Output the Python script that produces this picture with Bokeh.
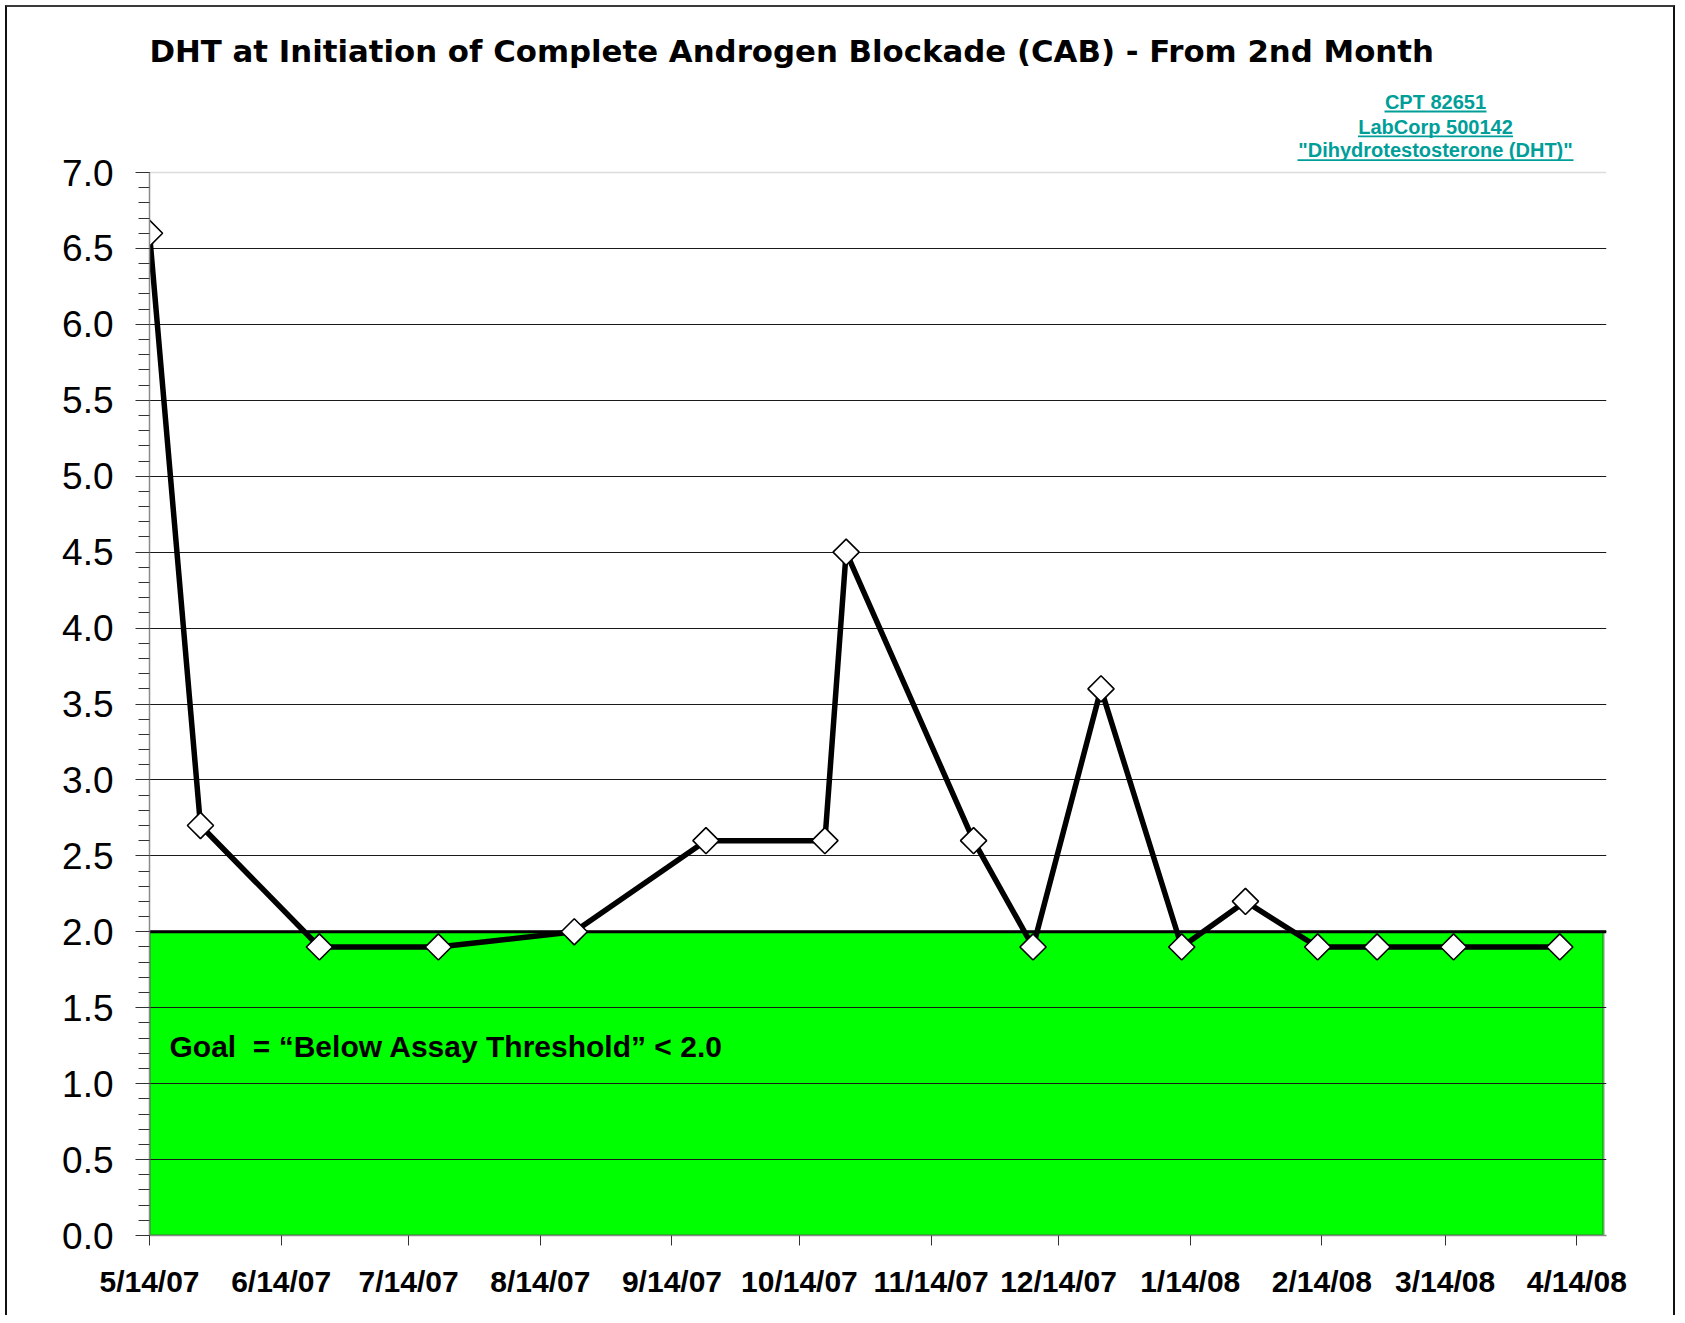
import numpy as np
import pandas as pd
from bokeh.plotting import figure
from bokeh.models import (Range1d, FixedTicker, NumeralTickFormatter,
                          BoxAnnotation, Label, Span, ColumnDataSource)
from bokeh.embed import file_html
from bokeh.resources import INLINE

# ---------------- data ----------------
title_text = "DHT at Initiation of Complete Androgen Blockade (CAB) - From 2nd Month"
link_lines = ["CPT 82651", "LabCorp 500142", "\"Dihydrotestosterone (DHT)\""]
goal_text = "Goal\u00a0 = \u201cBelow Assay Threshold\u201d < 2.0"
goal_threshold = 2.0

dates = ["2007-05-14", "2007-05-26", "2007-06-23", "2007-07-21", "2007-08-22",
         "2007-09-22", "2007-10-20", "2007-10-25", "2007-11-24", "2007-12-08",
         "2007-12-24", "2008-01-12", "2008-01-27", "2008-02-13", "2008-02-27",
         "2008-03-16", "2008-04-10"]
dht = [6.6, 2.7, 1.9, 1.9, 2.0, 2.6, 2.6, 4.5, 2.6, 1.9, 3.6, 1.9, 2.2, 1.9, 1.9, 1.9, 1.9]

tick_dates = ["2007-05-14", "2007-06-14", "2007-07-14", "2007-08-14", "2007-09-14",
              "2007-10-14", "2007-11-14", "2007-12-14", "2008-01-14", "2008-02-14",
              "2008-03-14", "2008-04-14"]
tick_labels = ["5/14/07", "6/14/07", "7/14/07", "8/14/07", "9/14/07", "10/14/07",
               "11/14/07", "12/14/07", "1/14/08", "2/14/08", "3/14/08", "4/14/08"]

y_ticks = [0.0, 0.5, 1.0, 1.5, 2.0, 2.5, 3.0, 3.5, 4.0, 4.5, 5.0, 5.5, 6.0, 6.5, 7.0]

x_start = "2007-05-14"
x_end = "2008-04-21"
y_min, y_max = 0.0, 7.0


def ms(d):
    return float(pd.Timestamp(d).value // 10**6)


# ---------------- geometry (pixels) ----------------
FONT = "Liberation Sans"
W, H = 1670, 1310
BL, BR, BB = 142, 71, 82
frame_w = W - BL - BR            # 1457
frame_h = H - BB                 # frame reaches the canvas top
px_per_unit = 1063 / (y_max - y_min)
y_top = y_min + frame_h / px_per_unit
ms_per_px = (ms(x_end) - ms(x_start)) / frame_w
ZERO_PAGE_Y = 1235               # page y of value 0


def ydat(page_y):
    return y_min + (ZERO_PAGE_Y - page_y) / px_per_unit


src = ColumnDataSource(dict(x=[pd.Timestamp(d) for d in dates], y=dht))

p = figure(width=W, height=H, x_axis_type="datetime", title=None,
           x_range=Range1d(ms(x_start), ms(x_end)), y_range=Range1d(y_min, y_top),
           output_backend="svg", toolbar_location=None,
           min_border_left=BL, min_border_right=BR, min_border_top=0, min_border_bottom=BB)
p.styles = {"margin-left": "5px", "margin-top": "5px",
            "border-top": "2px solid #3a3a3a", "border-left": "2px solid #111111",
            "border-right": "2px solid #111111"}
p.outline_line_color = None
p.background_fill_color = "white"
p.border_fill_color = "white"

# goal band
p.add_layout(BoxAnnotation(bottom=y_min, top=goal_threshold,
                           right=ms(x_end) - 3 * ms_per_px,
                           fill_color="#00FF00", fill_alpha=1.0,
                           line_color="black", line_width=2.5, level="image"))

# grid
p.xgrid.visible = False
p.ygrid.ticker = FixedTicker(ticks=[t for t in y_ticks if y_min < t < y_max])
p.ygrid.grid_line_color = "#1a1a1a"
p.ygrid.grid_line_width = 1
p.add_layout(Span(location=y_max, dimension="width", line_color="#dcdcdc", line_width=1.5,
                  level="underlay"))
p.add_layout(Span(location=goal_threshold, dimension="width", line_color="black", line_width=3,
                  level="underlay"))

# y axis
ya = p.yaxis[0]
ya.bounds = (y_min, y_max)
ya.ticker = FixedTicker(ticks=y_ticks,
                        minor_ticks=[round(v, 1) for v in np.arange(0, 70.5, 1) / 10])
ya.formatter = NumeralTickFormatter(format="0.0")
ya.major_label_text_font = FONT
ya.major_label_text_font_size = "37px"
ya.major_label_text_color = "black"
ya.major_tick_out = 14
ya.major_tick_in = 0
ya.minor_tick_out = 11
ya.minor_tick_in = 0
ya.major_label_standoff = 22
ya.axis_line_color = "#8a8a8a"
ya.axis_line_width = 1.5
ya.major_tick_line_color = "#333333"
ya.minor_tick_line_color = "#333333"

# x axis
xa = p.xaxis[0]
xa.ticker = FixedTicker(ticks=[ms(d) for d in tick_dates])
xa.major_label_overrides = {ms(d): lab for d, lab in zip(tick_dates, tick_labels)}
xa.major_label_text_font = FONT
xa.major_label_text_font_size = "30px"
xa.major_label_text_font_style = "bold"
xa.major_label_text_color = "black"
xa.major_tick_out = 10
xa.major_tick_in = 0
xa.minor_tick_out = 0
xa.minor_tick_in = 0
xa.major_label_standoff = 19
xa.axis_line_color = "#8a8a8a"
xa.axis_line_width = 1.5
xa.major_tick_line_color = "#333333"

# series
p.line("x", "y", source=src, line_color="black", line_width=5.5)
p.scatter("x", "y", source=src, marker="square", angle=np.pi / 4, size=18.5,
          fill_color="white", line_color="black", line_width=1.6)

# title
p.add_layout(Label(x=ms(x_start), y=ydat(50), x_offset=0, text=title_text,
                   text_font="DejaVu Sans", text_font_size="30.8px", text_font_style="bold",
                   text_color="black", text_baseline="middle", text_align="left"))

# links (underlined)
link_color = "#009E99"
link_mid_px = [101.8, 126.0, 149.8]      # page y of text middles
link_under_px = [111.0, 135.8, 159.7]    # page y of underlines
underline_w = [102, 155, 276]
link_dx = -171                           # centre, px left of the frame's right edge
for txt, ym, yu, w in zip(link_lines, link_mid_px, link_under_px, underline_w):
    p.add_layout(Label(x=ms(x_end), y=ydat(ym), x_offset=link_dx, text=txt,
                       text_font=FONT, text_font_size="20px", text_font_style="bold",
                       text_color=link_color, text_baseline="middle", text_align="center"))
    xc = ms(x_end) + link_dx * ms_per_px
    p.segment(x0=[xc - w / 2 * ms_per_px], x1=[xc + w / 2 * ms_per_px],
              y0=[ydat(yu)], y1=[ydat(yu)],
              line_color=link_color, line_width=1.8)

# goal text
p.add_layout(Label(x=ms(x_start), y=ydat(1046), x_offset=20, text=goal_text,
                   text_font=FONT, text_font_size="30px", text_font_style="bold",
                   text_color="black", text_baseline="middle", text_align="left"))

open("out.html", "w").write(file_html(p, INLINE))
